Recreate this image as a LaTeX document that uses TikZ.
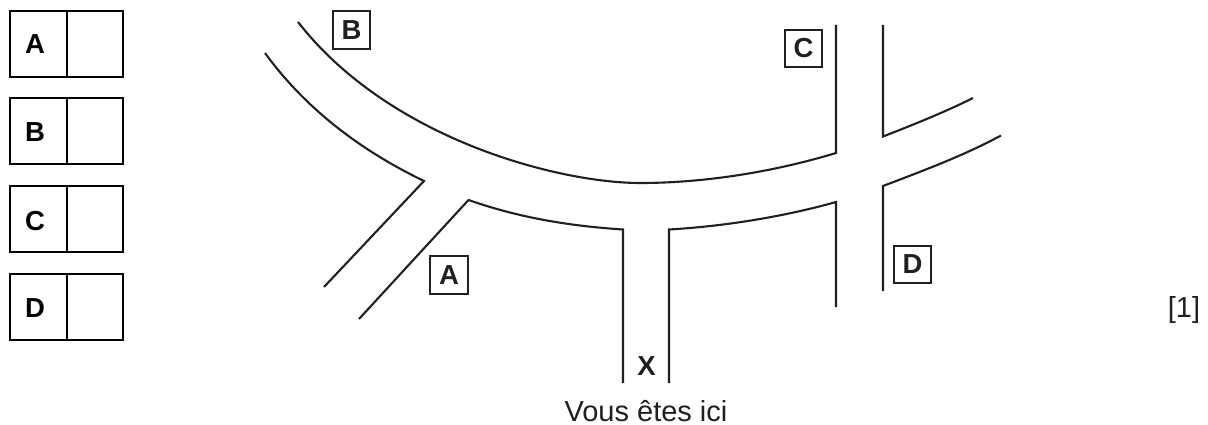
\documentclass[tikz,border=0pt]{standalone}
\usepackage{fontspec}
\setmainfont{Liberation Sans}
\definecolor{ink}{RGB}{35,31,32}
\begin{document}
\begin{tikzpicture}[x=1pt,y=-1pt,
 road/.style={line width=2.1pt,ink,line join=miter},
 cell/.style={draw=black,line width=2.1pt,minimum height=66pt,inner sep=0pt},
 keylab/.style={font=\bfseries\fontsize{27.5}{27.5}\selectfont,inner sep=0pt},
 tag/.style={draw=ink,line width=2.1pt,minimum width=37.5pt,minimum height=37.5pt,inner sep=0pt,font=\bfseries\fontsize{27.5}{27.5}\selectfont,text=ink},
 plain/.style={inner sep=0pt,text=ink,font=\fontsize{29}{29}\selectfont}]
\useasboundingbox (0,0) rectangle (1208,425);
% key boxes
\node[cell,minimum width=56.5pt] (ka) at (38.5,44) {};
\node[cell,minimum width=56.5pt] (kb) at (38.5,131) {};
\node[cell,minimum width=56.5pt] (kc) at (38.5,219) {};
\node[cell,minimum width=56.5pt] (kd) at (38.5,307) {};
\node[cell,minimum width=55.5pt] (ea) at (95,44) {};
\node[cell,minimum width=55.5pt] (eb) at (95,131) {};
\node[cell,minimum width=55.5pt] (ec) at (95,219) {};
\node[cell,minimum width=55.5pt] (ed) at (95,307) {};
\node[keylab] (la) at (35,44) {A};
\node[keylab] (lb) at (35,132) {B};
\node[keylab] (lc) at (35,221) {C};
\node[keylab] (ld) at (35,308) {D};
% roads
\draw[road] (298,22) .. controls (390,140) and (560,183) .. (640,183) .. controls (710,183) and (780,170) .. (836,153) -- (836,25);
\draw[road] (265,53) .. controls (310,115) and (370,155) .. (424,181) -- (324,287);
\draw[road] (359,319) -- (468.5,200) .. controls (520,218) and (570,226) .. (623,229.5) -- (623,383);
\draw[road] (669,383) -- (669,229.5) .. controls (730,226) and (790,215) .. (836,202) -- (836,307);
\draw[road] (883,25) -- (883,136.5) .. controls (915,124) and (945,112) .. (973,98);
\draw[road] (883,291) -- (883,186) .. controls (925,170) and (965,155) .. (1001,135.5);
% tags
\node[tag] (tb) at (351.5,30) {B};
\node[tag] (tc) at (803.5,48.5) {C};
\node[tag] (ta) at (449,275) {A};
\node[tag] (td) at (912.5,264.5) {D};
\node[keylab,text=ink] (x) at (646.5,366) {X};
\node[plain] (v) at (646,411.5) {Vous êtes ici};
\node[plain] (m) at (1184,310) {[1]};
\end{tikzpicture}
\end{document}
